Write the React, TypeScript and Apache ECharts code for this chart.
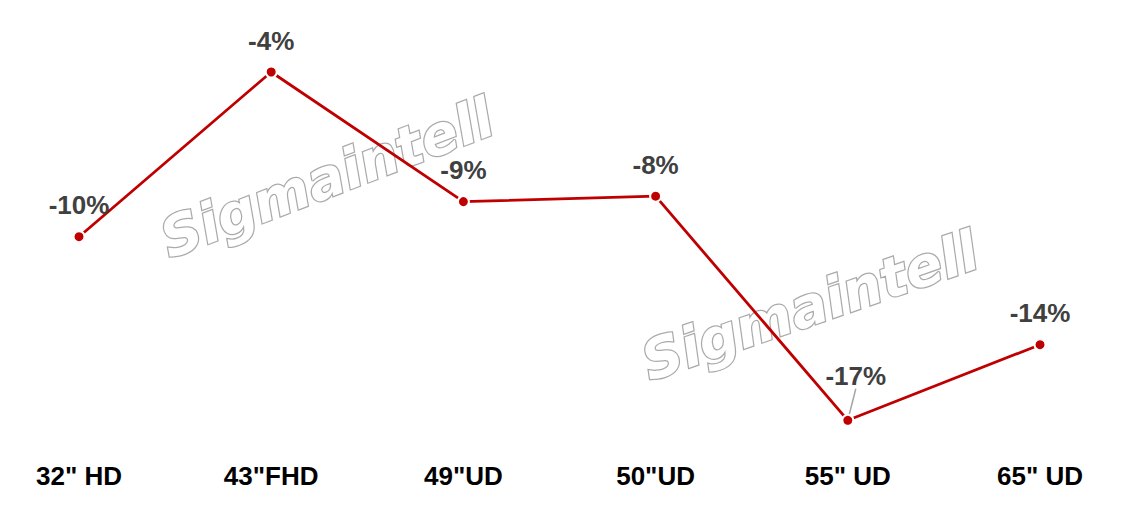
import React, { useEffect, useRef } from "react";
import * as echarts from "echarts";

const categories = ['32" HD', '43"FHD', '49"UD', '50"UD', '55" UD', '65" UD'];
const values = [-10.1, -4.0, -8.8, -8.6, -16.9, -14.1];
const valueLabels = ["-10%", "-4%", "-9%", "-8%", "-17%", "-14%"];
const watermarkText = "Sigmaintell";

export default function App() {
  const ref = useRef<HTMLDivElement>(null);
  useEffect(() => {
    if (!ref.current) return;
    const chart = echarts.init(ref.current, null, { renderer: "svg" });
    const wmStyle = {
      text: watermarkText,
      font: "italic bold 55px 'DejaVu Sans'",
      fill: "#ffffff",
      stroke: "#aaaaaa",
      lineWidth: 2.5,
      align: "center",
      verticalAlign: "middle",
    };
    const seriesData = values.map((v, i) =>
      i === 4
        ? { value: v, labelLine: { show: true, lineStyle: { color: "#a6a6a6", width: 1.5 } } }
        : { value: v }
    );
    chart.setOption({
      animation: false,
      backgroundColor: "#ffffff",
      grid: { left: 79, right: 86, top: 18, bottom: 68 },
      xAxis: {
        type: "category",
        data: categories,
        boundaryGap: false,
        axisLine: { show: false },
        axisTick: { show: false },
        splitLine: { show: false },
        axisLabel: {
          margin: 13,
          color: "#000000",
          fontFamily: "'Liberation Sans', Arial, sans-serif",
          fontWeight: "bold",
          fontSize: 26,
        },
      },
      yAxis: {
        type: "value",
        min: -18,
        max: -2,
        show: false,
        splitLine: { show: false },
      },
      graphic: [
        { type: "text", x: 327, y: 178, rotation: (21 * Math.PI) / 180, z: 0, style: wmStyle },
        { type: "text", x: 810, y: 306, rotation: (19 * Math.PI) / 180, z: 0, style: wmStyle },
      ],
      series: [
        {
          type: "line",
          z: 5,
          data: seriesData,
          symbol: "circle",
          symbolSize: 11,
          itemStyle: { color: "#c00000", borderColor: "#ffffff", borderWidth: 2 },
          lineStyle: { color: "#c00000", width: 2.8 },
          label: {
            show: true,
            position: "top",
            distance: 12,
            color: "#404040",
            fontFamily: "'Liberation Sans', Arial, sans-serif",
            fontWeight: "bold",
            fontSize: 26,
            formatter: (p: any) => valueLabels[p.dataIndex],
          },
          labelLine: { show: false },
          labelLayout: (p: any) =>
            p.dataIndex === 4 ? { dx: 8, dy: -13 } : {},
        },
      ],
    });
    return () => chart.dispose();
  }, []);
  return (
    <div
      ref={ref}
      style={{ position: "fixed", left: 0, top: 0, width: 1126, height: 518 }}
    />
  );
}
